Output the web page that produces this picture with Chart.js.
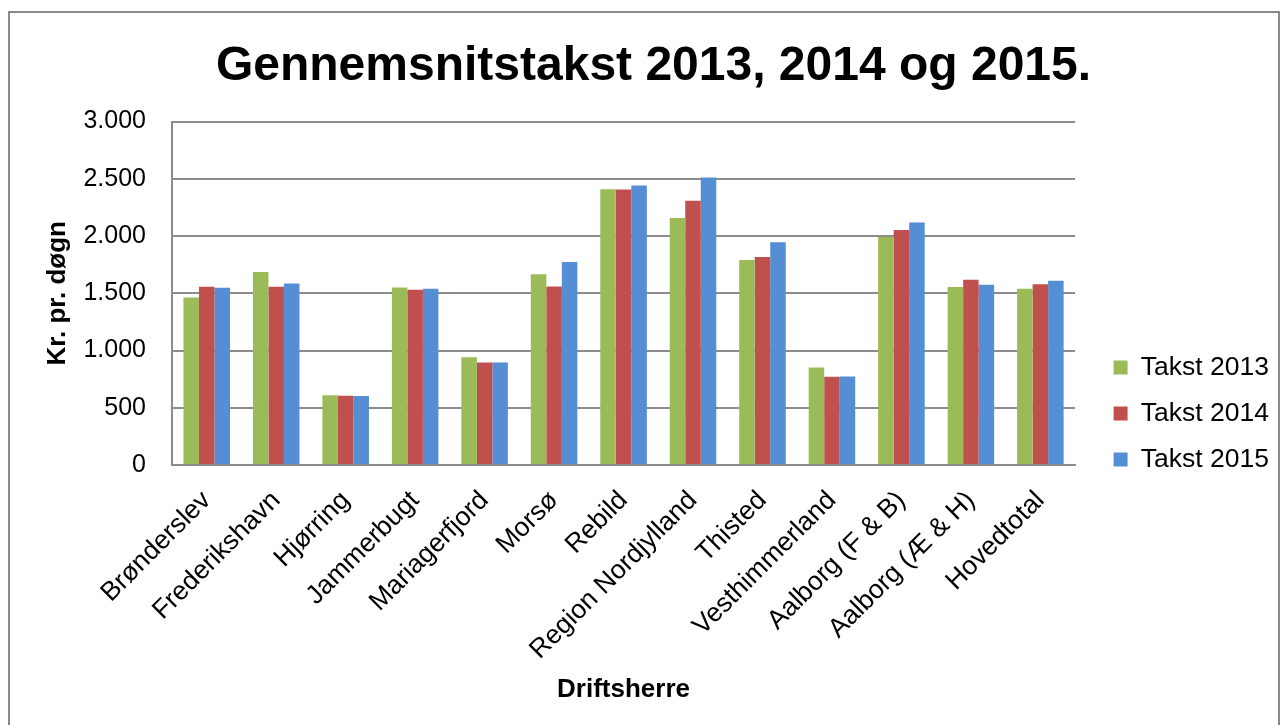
<!DOCTYPE html>
<html>
<head>
<meta charset="utf-8">
<script src="https://cdn.jsdelivr.net/npm/chart.js@4.4.1/dist/chart.umd.min.js"></script>
<style>
  body { margin: 0; background: #fff; }
  .frame {
    position: absolute; left: 8px; top: 11px; width: 1268px; height: 730px;
    border: 2px solid #8a8a8a;
  }
  .wrap { position: absolute; left: 0; top: 0; width: 1283px; height: 725px; }
</style>
</head>
<body>
<div class="frame"></div>
<div class="wrap"><canvas id="barChart"></canvas></div>
<script>
const categories = [
  "Brønderslev", "Frederikshavn", "Hjørring", "Jammerbugt", "Mariagerfjord",
  "Morsø", "Rebild", "Region Nordjylland", "Thisted", "Vesthimmerland",
  "Aalborg (F & B)", "Aalborg (Æ & H)", "Hovedtotal"
];
const takst2013 = [1464, 1687, 609, 1551, 942, 1667, 2409, 2157, 1792, 852, 1992, 1554, 1539];
const takst2014 = [1557, 1557, 606, 1531, 896, 1560, 2406, 2308, 1818, 771, 2052, 1618, 1580];
const takst2015 = [1548, 1586, 603, 1539, 896, 1774, 2441, 2511, 1945, 774, 2119, 1574, 1609];
const seriesNames = ["Takst 2013", "Takst 2014", "Takst 2015"];
const yTickLabels = ["0", "500", "1.000", "1.500", "2.000", "2.500", "3.000"];

const fontFamily = "'Liberation Sans', Arial, sans-serif";
const gridColor = "#8c8c8c";

// move the legend to where excel put it
const legendShift = {
  id: "legendShift",
  afterLayout(chart) {
    const lg = chart.legend;
    lg.left += 19; lg.right += 19;
    lg.top += 51; lg.bottom += 51;
  },
};

const ctx = document.getElementById("barChart");
new Chart(ctx, {
  type: "bar",
  data: {
    labels: categories,
    datasets: [
      { label: seriesNames[0], data: takst2013, backgroundColor: "#9bbb59", borderWidth: 0 },
      { label: seriesNames[1], data: takst2014, backgroundColor: "#c0504d", borderWidth: 0 },
      { label: seriesNames[2], data: takst2015, backgroundColor: "#558ed5", borderWidth: 0 },
    ],
  },
  options: {
    responsive: true,
    maintainAspectRatio: false,
    animation: false,
    layout: { padding: { left: 47, right: 23, top: 0, bottom: 0 } },
    datasets: { bar: { barPercentage: 1, categoryPercentage: 0.67 } },
    plugins: {
      title: {
        display: true,
        text: "Gennemsnitstakst 2013, 2014 og 2015.",
        color: "#000",
        font: { family: fontFamily, size: 48, weight: "bold" },
        padding: { top: 38, bottom: 26 },
      },
      legend: {
        position: "right",
        labels: {
          color: "#000",
          font: { family: fontFamily, size: 26.5 },
          boxWidth: 14,
          boxHeight: 14,
          padding: 19.5,
        },
      },
      tooltip: { enabled: false },
    },
    scales: {
      x: {
        grid: { display: false },
        border: { color: gridColor, width: 2 },
        ticks: {
          color: "#000",
          font: { family: fontFamily, size: 26.5 },
          minRotation: 45,
          maxRotation: 45,
          autoSkip: false,
          padding: 12,
        },
        title: {
          display: true,
          text: "Driftsherre",
          color: "#000",
          font: { family: fontFamily, size: 26, weight: "bold" },
          padding: { top: 0, bottom: 20 },
        },
        afterFit(scale) { scale.height = 260; },
      },
      y: {
        min: 0,
        max: 3000,
        grid: { color: gridColor, lineWidth: 2, drawTicks: false },
        border: { color: gridColor, width: 2 },
        ticks: {
          stepSize: 500,
          color: "#000",
          font: { family: fontFamily, size: 25 },
          padding: 26,
          callback: (v) => yTickLabels[v / 500],
        },
        title: {
          display: true,
          text: "Kr. pr. døgn",
          color: "#000",
          font: { family: fontFamily, size: 26, weight: "bold" },
          padding: { top: -5, bottom: 0 },
        },
        afterFit(scale) { scale.width = 125; },
      },
    },
  },
  plugins: [legendShift],
});
</script>
</body>
</html>
